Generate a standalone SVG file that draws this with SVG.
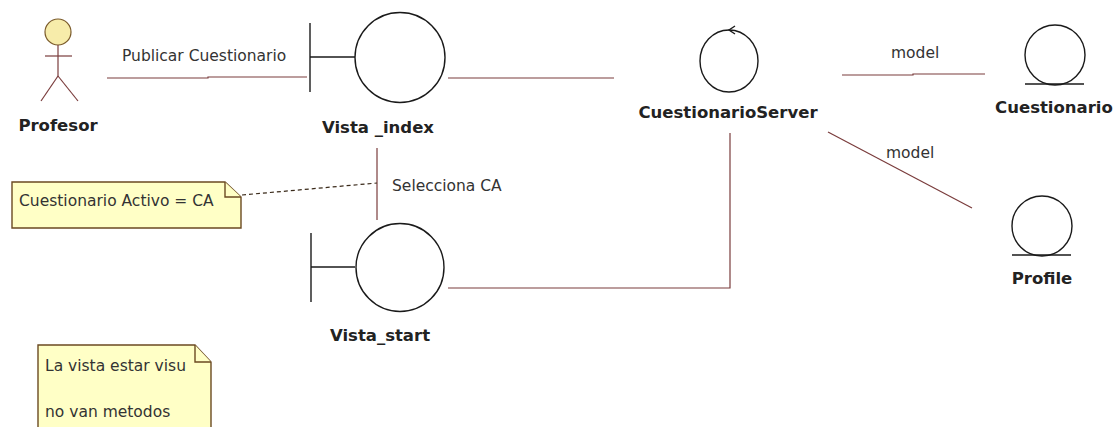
<svg xmlns="http://www.w3.org/2000/svg" width="1114" height="427" viewBox="0 0 1114 427">
<style>
.bg{fill:#ffffff}
.conn{stroke:#7a3c3c;stroke-width:1.2;fill:none}
.dash{stroke:#3a2a1a;stroke-width:1.2;fill:none;stroke-dasharray:4 3}
.shape{stroke:#1a1a1a;stroke-width:1.4;fill:none}
.lbl{font-family:"DejaVu Sans",sans-serif;font-size:15.5px;fill:#333}
.name{font-family:"DejaVu Sans",sans-serif;font-size:16.5px;font-weight:bold;fill:#222}
.note{fill:#ffffc6;stroke:#6b4a22;stroke-width:1.4}
.notetxt{font-family:"DejaVu Sans",sans-serif;font-size:15.5px;fill:#333}
.actor{stroke:#7a3c3c;stroke-width:1.2;fill:none}
</style>
<rect class="bg" x="0" y="0" width="1114" height="427"/>
<g id="connectors">
<polyline class="conn" points="107,78 208,78 208,77 307,77"/>
<line class="conn" x1="448" y1="78" x2="614" y2="78"/>
<polyline class="conn" points="448,288 730,288 730,133"/>
<polyline class="conn" points="842,75 913,75 913,74 985,74"/>
<line class="conn" x1="828" y1="132" x2="972" y2="208"/>
<line class="conn" x1="377" y1="148" x2="377" y2="220"/>
<line class="dash" x1="242" y1="195" x2="377" y2="183"/>
<text class="lbl" x="122" y="61">Publicar Cuestionario</text>
<text class="lbl" x="891" y="58">model</text>
<text class="lbl" x="886" y="158">model</text>
<text class="lbl" x="392" y="191">Selecciona CA</text>
</g>
<g id="profesor">
<circle cx="58" cy="32" r="13" fill="#f7ecaa" stroke="#7a5a2a" stroke-width="1.2"/>
<line class="actor" x1="58" y1="45" x2="58" y2="76"/>
<line class="actor" x1="45" y1="56" x2="72" y2="56"/>
<line class="actor" x1="58" y1="76" x2="41" y2="101"/>
<line class="actor" x1="58" y1="76" x2="78" y2="101"/>
<text class="name" x="58" y="131" text-anchor="middle">Profesor</text>
</g>
<g id="vista_index">
<line class="shape" x1="310" y1="23" x2="310" y2="92"/>
<line class="shape" x1="310" y1="57" x2="355" y2="57"/>
<circle class="shape" cx="400" cy="57.5" r="45"/>
<text class="name" x="378" y="133" text-anchor="middle">Vista _index</text>
</g>
<g id="cuestionarioServer">
<ellipse class="shape" cx="729" cy="61" rx="29" ry="31"/>
<polyline class="shape" points="735,26 729,30 735,34"/>
<text class="name" x="728" y="118" text-anchor="middle">CuestionarioServer</text>
</g>
<g id="cuestionario">
<circle class="shape" cx="1055" cy="55" r="30"/>
<line class="shape" x1="1025" y1="84" x2="1084" y2="84"/>
<text class="name" x="1054" y="113" text-anchor="middle">Cuestionario</text>
</g>
<g id="profile">
<circle class="shape" cx="1042" cy="226" r="30"/>
<line class="shape" x1="1012" y1="255" x2="1071" y2="255"/>
<text class="name" x="1042" y="284" text-anchor="middle">Profile</text>
</g>
<g id="vista_start">
<line class="shape" x1="311" y1="233" x2="311" y2="302"/>
<line class="shape" x1="311" y1="267" x2="355" y2="267"/>
<circle class="shape" cx="400" cy="267.5" r="44"/>
<text class="name" x="380" y="341" text-anchor="middle">Vista_start</text>
</g>
<g id="note_ca">
<path class="note" d="M12,182 H225 L241,197 V228 H12 Z"/>
<polyline class="note" points="225,182 225,197 241,197" fill="none"/>
<text class="notetxt" x="19" y="206">Cuestionario Activo = CA</text>
</g>
<g id="note_vista">
<path class="note" d="M38,345 H195 L211,362 V428 H38 Z"/>
<polyline class="note" points="195,345 195,362 211,362" fill="none"/>
<text class="notetxt" x="45" y="371">La vista estar visu</text>
<text class="notetxt" x="45" y="417">no van metodos</text>
</g>
</svg>
